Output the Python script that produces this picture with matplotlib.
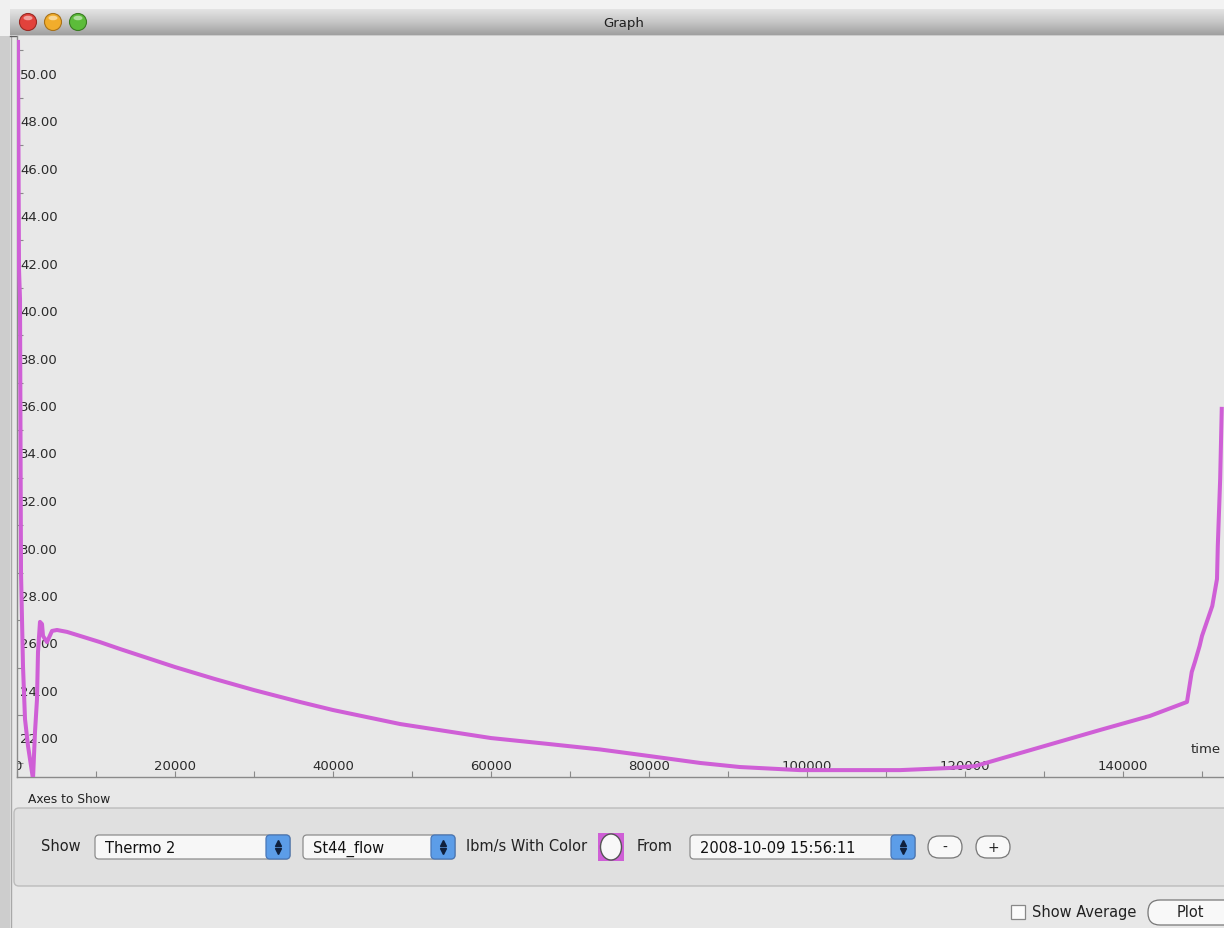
import matplotlib
matplotlib.use("Agg")
import matplotlib.pyplot as plt
import matplotlib.transforms as mtransforms
from matplotlib.patches import Rectangle, FancyBboxPatch, Circle, Ellipse
import numpy as np

plt.rcParams['font.family'] = ['DejaVu Sans']

# St44_flow (lbm/s) against time
time_s = [127, 253, 380, 506, 759, 1013, 1392, 2025, 2278, 2532, 2658, 2911,
          3165, 3291, 3797, 4430, 5063, 6329, 7595, 10506, 13038, 20000,
          25000, 30000, 35800, 40000, 48500, 60000, 67000, 73800, 80100, 86500,
          91500, 99100, 111800, 118100, 121300, 124400, 137100, 143400,
          148100, 148700, 149100, 149700, 150000, 151300, 151900, 152000,
          152300, 152500]
flow = [51.35, 41.79, 40.53, 29.03, 25.07, 22.84, 21.71, 20.32, 22.29, 23.68,
        25.66, 26.93, 26.84, 26.34, 26.08, 26.55, 26.59, 26.51, 26.38, 26.08,
        25.79, 25.03, 24.53, 24.06, 23.56, 23.22, 22.63, 22.04, 21.80, 21.56, 21.28,
        20.99, 20.82, 20.69, 20.69, 20.78, 20.86, 21.16, 22.38, 22.97,
        23.56, 24.82, 25.24, 25.92, 26.34, 27.60, 28.74, 30.13,
        32.95, 35.90]

x_labels = [0, 20000, 40000, 60000, 80000, 100000, 120000, 140000]
y_labels = [22, 24, 26, 28, 30, 32, 34, 36, 38, 40, 42, 44, 46, 48, 50]

popup_items = ["Thermo 2", "St44_flow", "2008-10-09 15:56:11"]
LINE = "#cf5fd6"
BG = "#e8e8e8"
W, H = 1224, 929

fig = plt.figure(figsize=(W / 100, H / 100), dpi=100, facecolor=BG)

# window chrome, drawn in pixel coordinates
bg = fig.add_axes([0, 0, 1, 1], zorder=-1)
bg.set_xlim(0, W)
bg.set_ylim(H, 0)
bg.axis('off')
bg.add_patch(Rectangle((0, 0), W, 10, facecolor="#f3f3f3", lw=0))
bg.add_patch(Rectangle((0, 0), 10, 37, facecolor="#f0f0f0", lw=0))
bg.add_patch(Rectangle((0, 37), 10, H, facecolor="#cdcdcd", lw=0))
bg.plot([10.5, 10.5], [37, H], color="#a8a8a8", lw=1)
grad = np.linspace(0, 1, 64).reshape(-1, 1)
bg.imshow(grad, cmap=matplotlib.colors.LinearSegmentedColormap.from_list(
    "tb", ["#e4e4e4", "#c6c6c6", "#a0a0a0"]), extent=(10, W, 36, 10),
    aspect='auto', zorder=1)
bg.plot([10, W], [36.5, 36.5], color="#5e5e5e", lw=1, zorder=2)
for cx, face, edge in [(28, "#e2423c", "#9a2a24"), (53, "#f1ad2c", "#a8721a"),
                       (78, "#5cbc3a", "#3a7c22")]:
    bg.add_patch(Circle((cx, 23), 8.5, facecolor=face, edgecolor=edge, lw=0.8, zorder=3))
    bg.add_patch(Ellipse((cx, 19), 9, 4.5, facecolor="white", alpha=0.5, lw=0, zorder=4))
bg.text(624, 23, "Graph", ha='center', va='center', fontsize=9.5, color="#1e1e1e", zorder=4)

# lower control panel
bg.text(28, 800, "Axes to Show", ha='left', va='center', fontsize=8.8, color="#222")
bg.add_patch(FancyBboxPatch((14, 809), 1300, 78, boxstyle="round,pad=0,rounding_size=5",
                            facecolor="#e0e0e0", edgecolor="#bcbcbc", lw=1))
bg.text(41, 847, "Show", ha='left', va='center', fontsize=10.5, color="#222")


def popup(x0, x1, text):
    bg.add_patch(FancyBboxPatch((x0, 836), x1 - x0, 24, boxstyle="round,pad=0,rounding_size=4",
                                facecolor="#f7f7f7", edgecolor="#8c8c8c", lw=0.9, zorder=3))
    bg.add_patch(FancyBboxPatch((x1 - 24, 836), 24, 24, boxstyle="round,pad=0,rounding_size=4",
                                facecolor="#5c9de8", edgecolor="#4a78b8", lw=0.9, zorder=4))
    bg.plot(x1 - 12, 844, marker='^', ms=4, color="#10203c", zorder=5)
    bg.plot(x1 - 12, 852, marker='v', ms=4, color="#10203c", zorder=5)
    bg.text(x0 + 10, 849, text, ha='left', va='center', fontsize=10.5, color="#111", zorder=5)


popup(95, 290, popup_items[0])
popup(303, 455, popup_items[1])
bg.text(466, 847, "lbm/s With Color", ha='left', va='center', fontsize=10.5, color="#222")
bg.add_patch(Rectangle((598, 834), 26, 28, facecolor=LINE, lw=0, zorder=3))
bg.add_patch(Ellipse((611, 848), 21, 26, facecolor="#f8f8f8", edgecolor="#555", lw=1, zorder=4))
bg.text(637, 847, "From", ha='left', va='center', fontsize=10.5, color="#222")
popup(690, 915, popup_items[2])
for x0, sym in [(928, "-"), (976, "+")]:
    bg.add_patch(FancyBboxPatch((x0, 837), 34, 22, boxstyle="round,pad=0,rounding_size=11",
                                facecolor="#f8f8f8", edgecolor="#777", lw=0.9, zorder=3))
    bg.text(x0 + 17, 848, sym, ha='center', va='center', fontsize=10, color="#222", zorder=4)

bg.add_patch(Rectangle((1011, 906), 14, 14, facecolor="#fbfbfb", edgecolor="#888", lw=0.9))
bg.text(1032, 913, "Show Average", ha='left', va='center', fontsize=10.5, color="#222")
bg.add_patch(FancyBboxPatch((1148, 901), 110, 25, boxstyle="round,pad=0,rounding_size=12",
                            facecolor="#f8f8f8", edgecolor="#777", lw=0.9, zorder=3))
bg.text(1190, 913, "Plot", ha='center', va='center', fontsize=10.5, color="#222", zorder=4)

# the graph itself
px_per_x = 0.0079
px_per_y = 23.75
ax = fig.add_axes([17 / W, (H - 778) / H, (W - 17) / W, (778 - 37) / H], facecolor=BG)
ax.plot(time_s, flow, color=LINE, lw=2.9, solid_joinstyle='round', zorder=3)

for s in ['top', 'right']:
    ax.spines[s].set_visible(False)
for s in ['left', 'bottom']:
    ax.spines[s].set_color("#8a8a8a")
    ax.spines[s].set_linewidth(1)
ax.set_xticks(np.arange(0, 150001, 10000))
ax.set_yticks(np.arange(21, 52, 2))
ax.tick_params(direction='in', length=4, width=0.8, color="#8a8a8a",
               labelbottom=False, labelleft=False)
ax.set_xlim(0, (W - 17) / px_per_x)
ax.set_ylim(22 - (778 - 740) / px_per_y, 22 + (740 - 37) / px_per_y)

ylab_tr = mtransforms.offset_copy(ax.get_yaxis_transform(), fig=fig, x=3, y=0, units='dots')
for v in y_labels:
    ax.text(0, v, "%.2f" % v, transform=ylab_tr, ha='left', va='center',
            fontsize=9.5, color="#2a2a2a", zorder=2)
xlab_tr = mtransforms.offset_copy(ax.get_xaxis_transform(), fig=fig, x=0, y=11, units='dots')
for v in x_labels:
    ax.text(v, 0, str(v), transform=xlab_tr, ha='center', va='center',
            fontsize=9.5, color="#2a2a2a", clip_on=True, zorder=2)
ax.text(1.0, 0, "time", transform=mtransforms.offset_copy(
    ax.transAxes, fig=fig, x=-3, y=28, units='dots'),
    ha='right', va='center', fontsize=9.5, color="#2a2a2a")

fig.savefig("out.png", dpi=100, facecolor=BG)
